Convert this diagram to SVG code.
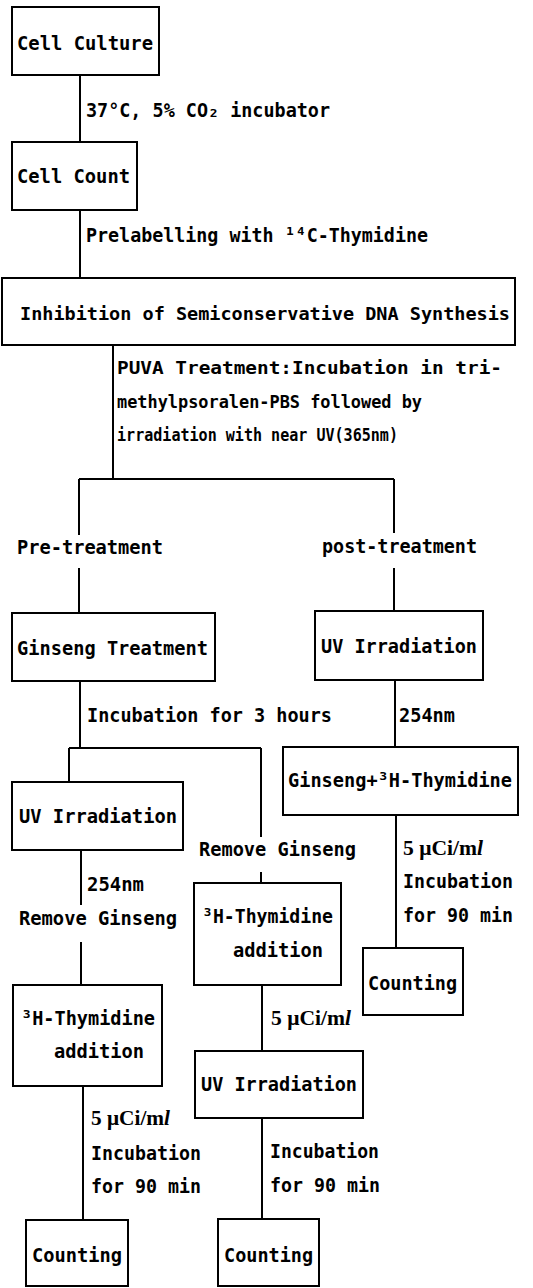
<svg xmlns="http://www.w3.org/2000/svg" width="533" height="1288" viewBox="0 0 533 1288">
<style>
rect{fill:#fff;stroke:#000;stroke-width:2}
#connectors line{stroke:#000;stroke-width:2}
text{font-family:"DejaVu Sans Mono","Liberation Mono",monospace;font-size:20px;font-weight:bold;fill:#000}
text.s{font-size:18.5px}
text.w{font-size:18.5px}
text.ser{font-family:"Liberation Serif","Times New Roman",serif;font-size:20px}
</style>
<rect x="0" y="0" width="533" height="1288" style="stroke:none"/>
<g id="connectors">
<line x1="80" y1="75" x2="80" y2="142"/>
<line x1="80" y1="210" x2="80" y2="278"/>
<line x1="113" y1="345" x2="113" y2="479"/>
<line x1="79" y1="479" x2="394" y2="479"/>
<line x1="79" y1="479" x2="79" y2="535"/>
<line x1="394" y1="479" x2="394" y2="533"/>
<line x1="79" y1="568" x2="79" y2="613"/>
<line x1="394" y1="568" x2="394" y2="611"/>
<line x1="80" y1="681" x2="80" y2="748"/>
<line x1="69" y1="748" x2="261" y2="748"/>
<line x1="69" y1="748" x2="69" y2="782"/>
<line x1="261" y1="748" x2="261" y2="837"/>
<line x1="261" y1="872" x2="261" y2="883"/>
<line x1="395" y1="680" x2="395" y2="747"/>
<line x1="396" y1="815" x2="396" y2="948"/>
<line x1="81" y1="850" x2="81" y2="905"/>
<line x1="81" y1="942" x2="81" y2="985"/>
<line x1="262" y1="985" x2="262" y2="1051"/>
<line x1="262" y1="1118" x2="262" y2="1219"/>
<line x1="83" y1="1086" x2="83" y2="1220"/>
</g>
<g id="labels">
<text x="86" y="117" textLength="244" lengthAdjust="spacingAndGlyphs">37°C, 5% CO₂ incubator</text>
<text x="86" y="242" textLength="342" lengthAdjust="spacingAndGlyphs">Prelabelling with ¹⁴C-Thymidine</text>
<text class="s" x="117" y="374" textLength="385" lengthAdjust="spacingAndGlyphs">PUVA Treatment:Incubation in tri-</text>
<text class="s" x="117" y="408" textLength="305" lengthAdjust="spacingAndGlyphs">methylpsoralen-PBS followed by</text>
<text class="s" x="117" y="441" textLength="281" lengthAdjust="spacingAndGlyphs">irradiation with near UV(365nm)</text>
<text x="17" y="554" textLength="146" lengthAdjust="spacingAndGlyphs">Pre-treatment</text>
<text x="322" y="553" textLength="155" lengthAdjust="spacingAndGlyphs">post-treatment</text>
<text x="87" y="722" textLength="245" lengthAdjust="spacingAndGlyphs">Incubation for 3 hours</text>
<text x="399" y="722" textLength="56" lengthAdjust="spacingAndGlyphs">254nm</text>
<text x="199" y="856" textLength="157" lengthAdjust="spacingAndGlyphs">Remove Ginseng</text>
<text class="ser" x="403" y="855" textLength="80" lengthAdjust="spacingAndGlyphs">5 μCi/m<tspan font-style="italic">l</tspan></text>
<text x="403" y="888" textLength="110" lengthAdjust="spacingAndGlyphs">Incubation</text>
<text x="403" y="922" textLength="110" lengthAdjust="spacingAndGlyphs">for 90 min</text>
<text x="87" y="891" textLength="57" lengthAdjust="spacingAndGlyphs">254nm</text>
<text x="19" y="925" textLength="158" lengthAdjust="spacingAndGlyphs">Remove Ginseng</text>
<text class="ser" x="271" y="1025" textLength="80" lengthAdjust="spacingAndGlyphs">5 μCi/m<tspan font-style="italic">l</tspan></text>
<text class="ser" x="91" y="1125" textLength="79" lengthAdjust="spacingAndGlyphs">5 μCi/m<tspan font-style="italic">l</tspan></text>
<text x="91" y="1160" textLength="110" lengthAdjust="spacingAndGlyphs">Incubation</text>
<text x="91" y="1193" textLength="110" lengthAdjust="spacingAndGlyphs">for 90 min</text>
<text x="270" y="1158" textLength="109" lengthAdjust="spacingAndGlyphs">Incubation</text>
<text x="270" y="1192" textLength="110" lengthAdjust="spacingAndGlyphs">for 90 min</text>
</g>
<g id="cell-culture"><rect x="12" y="7" width="147" height="68"/><text x="17" y="50" textLength="136" lengthAdjust="spacingAndGlyphs">Cell Culture</text></g>
<g id="cell-count"><rect x="12" y="142" width="125" height="68"/><text x="17" y="183" textLength="113" lengthAdjust="spacingAndGlyphs">Cell Count</text></g>
<g id="inhibition"><rect x="2" y="278" width="513" height="67"/><text class="w" x="20" y="320" textLength="490" lengthAdjust="spacingAndGlyphs">Inhibition of Semiconservative DNA Synthesis</text></g>
<g id="ginseng-treatment"><rect x="12" y="613" width="203" height="68"/><text x="17" y="655" textLength="191" lengthAdjust="spacingAndGlyphs">Ginseng Treatment</text></g>
<g id="uv-post"><rect x="315" y="611" width="168" height="69"/><text x="321" y="653" textLength="156" lengthAdjust="spacingAndGlyphs">UV Irradiation</text></g>
<g id="uv-pre-a"><rect x="12" y="782" width="171" height="68"/><text x="19" y="823" textLength="158" lengthAdjust="spacingAndGlyphs">UV Irradiation</text></g>
<g id="ginseng-thymidine"><rect x="283" y="747" width="235" height="68"/><text x="288" y="787" textLength="224" lengthAdjust="spacingAndGlyphs">Ginseng+³H-Thymidine</text></g>
<g id="thymidine-pre-b"><rect x="194" y="883" width="147" height="102"/><text x="202" y="923" textLength="131" lengthAdjust="spacingAndGlyphs">³H-Thymidine</text><text x="233" y="957" textLength="90" lengthAdjust="spacingAndGlyphs">addition</text></g>
<g id="counting-post"><rect x="363" y="948" width="100" height="67"/><text x="368" y="990" textLength="89" lengthAdjust="spacingAndGlyphs">Counting</text></g>
<g id="thymidine-pre-a"><rect x="13" y="985" width="149" height="101"/><text x="21" y="1025" textLength="134" lengthAdjust="spacingAndGlyphs">³H-Thymidine</text><text x="54" y="1058" textLength="90" lengthAdjust="spacingAndGlyphs">addition</text></g>
<g id="uv-pre-b"><rect x="195" y="1051" width="168" height="67"/><text x="201" y="1091" textLength="156" lengthAdjust="spacingAndGlyphs">UV Irradiation</text></g>
<g id="counting-pre-a"><rect x="26" y="1220" width="102" height="66"/><text x="32" y="1262" textLength="90" lengthAdjust="spacingAndGlyphs">Counting</text></g>
<g id="counting-pre-b"><rect x="218" y="1219" width="101" height="67"/><text x="224" y="1262" textLength="89" lengthAdjust="spacingAndGlyphs">Counting</text></g>
</svg>
